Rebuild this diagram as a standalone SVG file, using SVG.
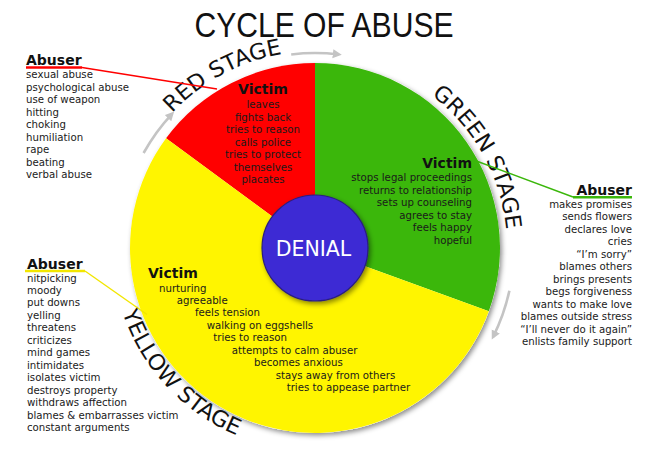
<svg xmlns="http://www.w3.org/2000/svg" width="650" height="454" viewBox="0 0 650 454">
<style>
  .t { font-family: "DejaVu Sans", Verdana, sans-serif; font-size: 10.2px; fill: #1a1a1a; }
  .h { font-family: "DejaVu Sans", Verdana, sans-serif; font-size: 14px; font-weight: bold; fill: #111; }
  .c { text-anchor: middle; }
  .e { text-anchor: end; }
  .stage { font-family: "DejaVu Sans", Verdana, sans-serif; font-size: 22px; fill: #111; }
  .arr { fill: none; stroke: #c4c4c4; stroke-width: 2.6; marker-end: url(#ah); }
</style>
<defs>
  <filter id="sh" x="-10%" y="-10%" width="125%" height="125%">
    <feDropShadow dx="2" dy="2.5" stdDeviation="2.5" flood-color="#000" flood-opacity="0.45"/>
  </filter>
  <marker id="ah" markerUnits="userSpaceOnUse" markerWidth="10" markerHeight="10" refX="6" refY="5" orient="auto">
    <path d="M0,0.5 L9,5 L0,9.5 Z" fill="#c4c4c4"/>
  </marker>
  <path id="pRed" d="M172.1,113.1 A197,197 0 0,1 349.2,54.0"/>
  <path id="pGreen" d="M431.4,95.3 A192,192 0 0,1 506.3,264.7"/>
  <path id="pYellow" d="M122.5,312.4 A203,203 0 0,0 279.8,447.9"/>
</defs>
<rect width="650" height="454" fill="#fff"/>

<g id="title">
  <text x="324" y="37" text-anchor="middle" font-family="Liberation Sans, Arial, sans-serif" font-size="35" fill="#111" textLength="259" lengthAdjust="spacingAndGlyphs">CYCLE OF ABUSE</text>
</g>

<circle cx="315" cy="248" r="185" fill="#fff" filter="url(#sh)"/>

<g id="red-stage">
  <path d="M315,248 L315,63 A185,185 0 0,0 166.04,138.26 Z" fill="#ff0000"/>
  <text class="h c" x="263" y="94">Victim</text>
  <text class="t c" x="263" y="108">leaves</text>
  <text class="t c" x="263" y="120.5">fights back</text>
  <text class="t c" x="263" y="133">tries to reason</text>
  <text class="t c" x="263" y="145.5">calls police</text>
  <text class="t c" x="263" y="158">tries to protect</text>
  <text class="t c" x="263" y="170.5">themselves</text>
  <text class="t c" x="263" y="183">placates</text>
</g>

<g id="green-stage">
  <path d="M315,248 L315,63 A185,185 0 0,1 488.84,311.27 Z" fill="#3bb70b"/>
  <text class="h e" x="472" y="168">Victim</text>
  <text class="t e" x="472" y="181">stops legal proceedings</text>
  <text class="t e" x="472" y="193.5">returns to relationship</text>
  <text class="t e" x="472" y="206">sets up counseling</text>
  <text class="t e" x="472" y="218.5">agrees to stay</text>
  <text class="t e" x="472" y="231">feels happy</text>
  <text class="t e" x="472" y="243.5">hopeful</text>
</g>

<g id="yellow-stage">
  <path d="M315,248 L488.84,311.27 A185,185 0 1,1 166.04,138.26 Z" fill="#fff500"/>
  <text class="h" x="148" y="277.5">Victim</text>
  <text class="t" x="159" y="291.5">nurturing</text>
  <text class="t" x="176.7" y="304">agreeable</text>
  <text class="t" x="195" y="316.4">feels tension</text>
  <text class="t" x="206.7" y="328.9">walking on eggshells</text>
  <text class="t" x="213.3" y="341.3">tries to reason</text>
  <text class="t" x="231.7" y="353.8">attempts to calm abuser</text>
  <text class="t" x="254" y="366.2">becomes anxious</text>
  <text class="t" x="275.7" y="378.7">stays away from others</text>
  <text class="t" x="286.7" y="391.1">tries to appease partner</text>
</g>

<g id="denial">
  <circle cx="315" cy="248" r="53" fill="#3c29d4" stroke="#2a1f80" stroke-width="1.2" filter="url(#sh)"/>
  <text x="313.5" y="255.5" text-anchor="middle" font-family="DejaVu Sans, Verdana, sans-serif" font-size="20.5" fill="#fff">DENIAL</text>
</g>

<g id="stage-labels">
  <text class="stage"><textPath href="#pRed" textLength="127" lengthAdjust="spacingAndGlyphs">RED STAGE</textPath></text>
  <text class="stage"><textPath href="#pGreen" textLength="158" lengthAdjust="spacingAndGlyphs">GREEN STAGE</textPath></text>
  <text class="stage"><textPath href="#pYellow" textLength="173" lengthAdjust="spacingAndGlyphs">YELLOW STAGE</textPath></text>
</g>

<g id="connectors">
  <line x1="26" y1="67.5" x2="82" y2="67.5" stroke="#ff0000" stroke-width="2.5"/>
  <line x1="82" y1="67.5" x2="217" y2="89" stroke="#ff0000" stroke-width="1.4"/>
  <line x1="475" y1="160.5" x2="573" y2="197" stroke="#3bb70b" stroke-width="1.4"/>
  <line x1="573" y1="197.3" x2="632" y2="197.3" stroke="#3bb70b" stroke-width="2.5"/>
  <line x1="25" y1="271" x2="85" y2="271" stroke="#f2e600" stroke-width="2.5"/>
  <line x1="85" y1="271" x2="147" y2="314.5" stroke="#f2e600" stroke-width="1.4"/>
  <path class="arr" d="M291.2,54.5 A195,195 0 0,1 338.8,54.5"/>
  <path class="arr" d="M509.4,290.7 A199,199 0 0,1 493.1,336.8"/>
  <path class="arr" d="M143.6,153 A196,196 0 0,1 172.1,113.8"/>
</g>

<g id="abuser-red">
  <text class="h" x="26" y="65">Abuser</text>
  <text class="t" x="26" y="78">sexual abuse</text>
  <text class="t" x="26" y="90.5">psychological abuse</text>
  <text class="t" x="26" y="103">use of weapon</text>
  <text class="t" x="26" y="115.5">hitting</text>
  <text class="t" x="26" y="128">choking</text>
  <text class="t" x="26" y="140.5">humiliation</text>
  <text class="t" x="26" y="153">rape</text>
  <text class="t" x="26" y="165.5">beating</text>
  <text class="t" x="26" y="178">verbal abuse</text>
</g>

<g id="abuser-green">
  <text class="h e" x="632" y="194.5">Abuser</text>
  <text class="t e" x="632" y="207.5">makes promises</text>
  <text class="t e" x="632" y="220">sends flowers</text>
  <text class="t e" x="632" y="232.5">declares love</text>
  <text class="t e" x="632" y="245">cries</text>
  <text class="t e" x="632" y="257.5">“I’m sorry”</text>
  <text class="t e" x="632" y="270">blames others</text>
  <text class="t e" x="632" y="282.5">brings presents</text>
  <text class="t e" x="632" y="295">begs forgiveness</text>
  <text class="t e" x="632" y="307.5">wants to make love</text>
  <text class="t e" x="632" y="320">blames outside stress</text>
  <text class="t e" x="632" y="332.5">“I’ll never do it again”</text>
  <text class="t e" x="632" y="345">enlists family support</text>
</g>

<g id="abuser-yellow">
  <text class="h" x="27" y="268.5">Abuser</text>
  <text class="t" x="27" y="281.5">nitpicking</text>
  <text class="t" x="27" y="294">moody</text>
  <text class="t" x="27" y="306.4">put downs</text>
  <text class="t" x="27" y="318.9">yelling</text>
  <text class="t" x="27" y="331.3">threatens</text>
  <text class="t" x="27" y="343.8">criticizes</text>
  <text class="t" x="27" y="356.2">mind games</text>
  <text class="t" x="27" y="368.7">intimidates</text>
  <text class="t" x="27" y="381.1">isolates victim</text>
  <text class="t" x="27" y="393.6">destroys property</text>
  <text class="t" x="27" y="406">withdraws affection</text>
  <text class="t" x="27" y="418.5">blames &amp; embarrasses victim</text>
  <text class="t" x="27" y="431">constant arguments</text>
</g>
</svg>
